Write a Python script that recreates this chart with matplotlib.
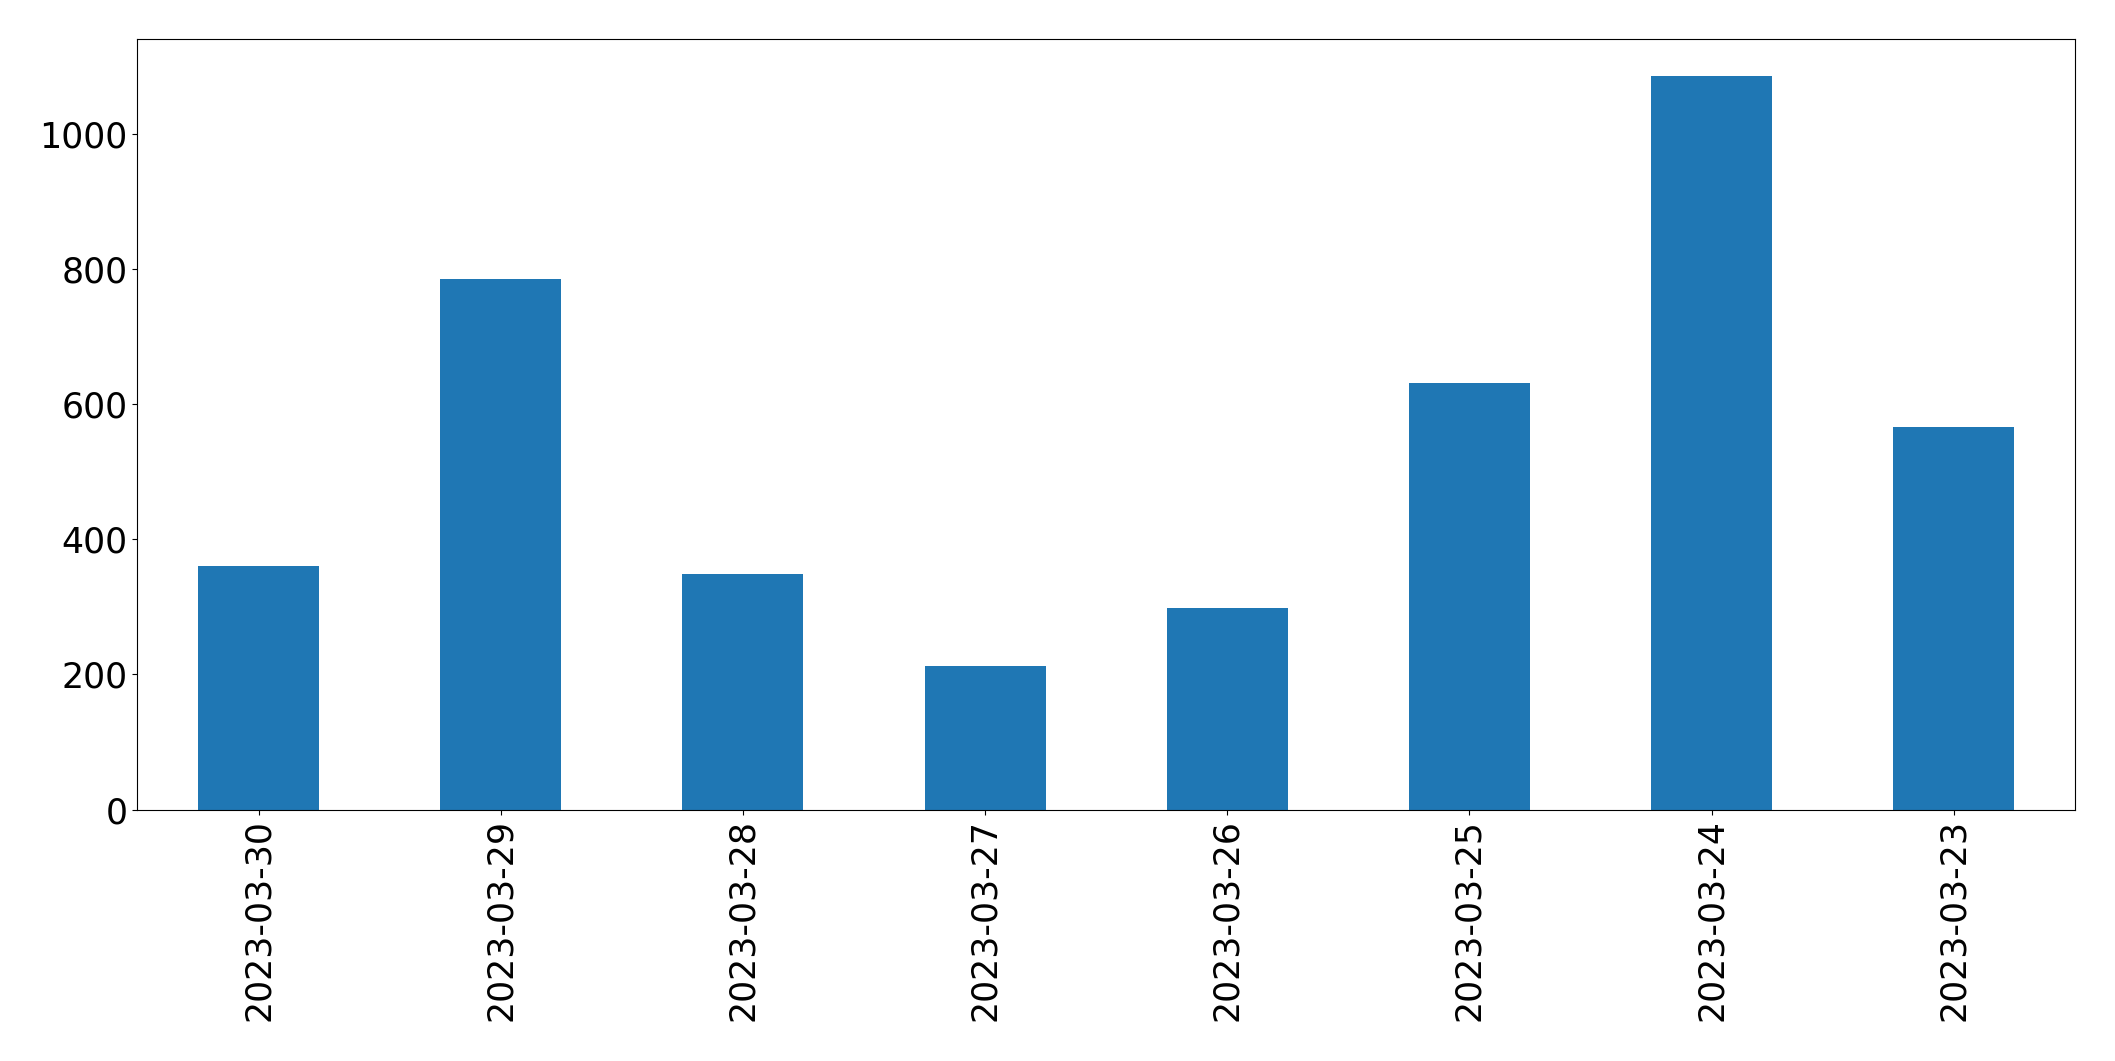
import matplotlib
matplotlib.use("Agg")
import matplotlib.pyplot as plt

# daily counts, newest first (as in the original)
dates = ["2023-03-30", "2023-03-29", "2023-03-28", "2023-03-27",
         "2023-03-26", "2023-03-25", "2023-03-24", "2023-03-23"]
counts = [361, 786, 348, 212, 298, 632, 1086, 567]

fig, ax = plt.subplots(figsize=(21.15, 10.61), dpi=100)
x = range(len(dates))
ax.bar(x, counts, width=0.5, color="#1f77b4")
ax.set_xlim(-0.5, len(dates) - 0.5)
ax.set_xticks(list(x))
ax.set_xticklabels(dates, rotation=90)
ax.tick_params(labelsize=25)

fig.subplots_adjust(left=0.065, right=0.981, top=0.963, bottom=0.237)
fig.savefig("out.png", dpi=100)
